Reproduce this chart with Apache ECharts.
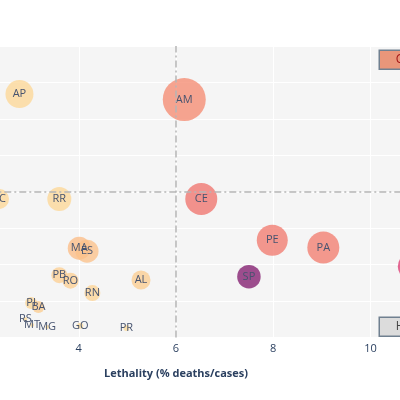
<!DOCTYPE html>
<html><head><meta charset="utf-8">
<script src="https://cdn.jsdelivr.net/npm/echarts@6/dist/echarts.min.js"></script>
<style>html,body{margin:0;padding:0;background:#fff}#c{width:400px;height:400px}</style>
</head><body><div id="c"></div>
<script>
// ---- data ----
const states      = ['AP','AM','AC','RR','CE','PE','PA','SP','RJ','MA','ES','PB','RO','AL','RN','PI','BA','RS','MT','MG','GO','PR'];
const lethality   = [2.78,6.17,2.36,3.60,6.52,7.98,9.03,7.50,10.84,4.01,4.17,3.60,3.83,5.28,4.28,3.02,3.17,2.90,3.04,3.35,4.03,4.98];
const yValues     = [66.8,65.3,38.0,38.0,38.0,26.7,24.7,16.7,19.5,24.5,23.7,17.1,15.6,15.8,12.2,9.5,8.4,5.1,3.4,2.9,3.2,2.6];
const sizeValues  = [196,462,100,144,256,240,256,138,182,132,132,64,64,90,64,36,36,4,4,4,9,9];
const colorValues = [0.02,0.25,0.02,0.02,0.33,0.31,0.30,0.98,0.63,0.095,0.08,0.04,0.04,0.05,0.03,0.02,0.05,0.01,0.01,0.01,0.01,0.01];
const xTicks = {min:0, max:12, interval:2};
const yTicks = {min:0, max:80, interval:10};
const meanLethality = 6.0;
const meanY = 40;
const annotations = ['Critical', 'High'];
const sunsetdark = ['#fcde9c','#faa476','#f0746e','#e34f6f','#dc3977','#b9257a','#7c1d6f'];

const chart = echarts.init(document.getElementById('c'), null, {renderer:'canvas'});
const data = states.map((s,i)=>[lethality[i], yValues[i], sizeValues[i], colorValues[i], s]);
const font = "'Open Sans', 'DejaVu Sans', sans-serif";
const option = {
  animation:false,
  grid:{left:-115.7, right:-67.7, top:46, bottom:62.5, show:true, backgroundColor:'#f5f5f5', borderWidth:0, containLabel:false, outerBoundsMode:'none'},
  xAxis:{type:'value', min:xTicks.min, max:xTicks.max, interval:xTicks.interval,
    name:'Lethality (% deaths/cases)', nameLocation:'middle', nameGap:31,
    nameTextStyle:{fontFamily:font, fontWeight:'bold', fontSize:11, color:'#2a3f5f'},
    axisLine:{show:false}, axisTick:{show:false},
    axisLabel:{color:'#2a3f5f', fontFamily:font, fontSize:11, margin:6},
    splitLine:{lineStyle:{color:'#ffffff', width:1}}},
  yAxis:{type:'value', min:yTicks.min, max:yTicks.max, interval:yTicks.interval,
    axisLine:{show:false}, axisTick:{show:false},
    axisLabel:{color:'#2a3f5f', fontFamily:font, fontSize:11},
    splitLine:{lineStyle:{color:'#ffffff', width:1}}},
  visualMap:{show:false, type:'continuous', dimension:3, min:0, max:1, seriesIndex:1, inRange:{color:sunsetdark}},
  series:[
    {type:'scatter', data:[], z:1, silent:true,
     markLine:{symbol:'none', silent:true, animation:false, label:{show:false},
       lineStyle:{color:'#b5b5b5', width:1.5, type:[7,3,2,3]},
       data:[{xAxis:meanLethality},{yAxis:meanY}]}},
    {type:'scatter', z:2, data:data,
     symbolSize:v=>2*Math.sqrt(v[2]),
     itemStyle:{opacity:0.78, borderWidth:0},
     label:{show:true, position:'inside', formatter:p=>p.value[4], color:'#46536f', opacity:1, fontFamily:font, fontSize:11}}
  ],
  graphic:[
    {type:'group', left:378.5, top:49.5, children:[
      {type:'rect', shape:{x:0,y:0,width:90,height:19}, style:{fill:'#e9967a', stroke:'#708090', lineWidth:1.5}},
      {type:'text', x:16.5, y:9.5, style:{text:annotations[0], fill:'#a31515', font:"12px "+font, verticalAlign:'middle'}}
    ]},
    {type:'group', left:378.5, top:316.5, children:[
      {type:'rect', shape:{x:0,y:0,width:90,height:19}, style:{fill:'#dcdcdc', stroke:'#708090', lineWidth:1.5}},
      {type:'text', x:16.5, y:9.5, style:{text:annotations[1], fill:'#444444', font:"12px "+font, verticalAlign:'middle'}}
    ]}
  ]
};
chart.setOption(option);
</script>
</body></html>
